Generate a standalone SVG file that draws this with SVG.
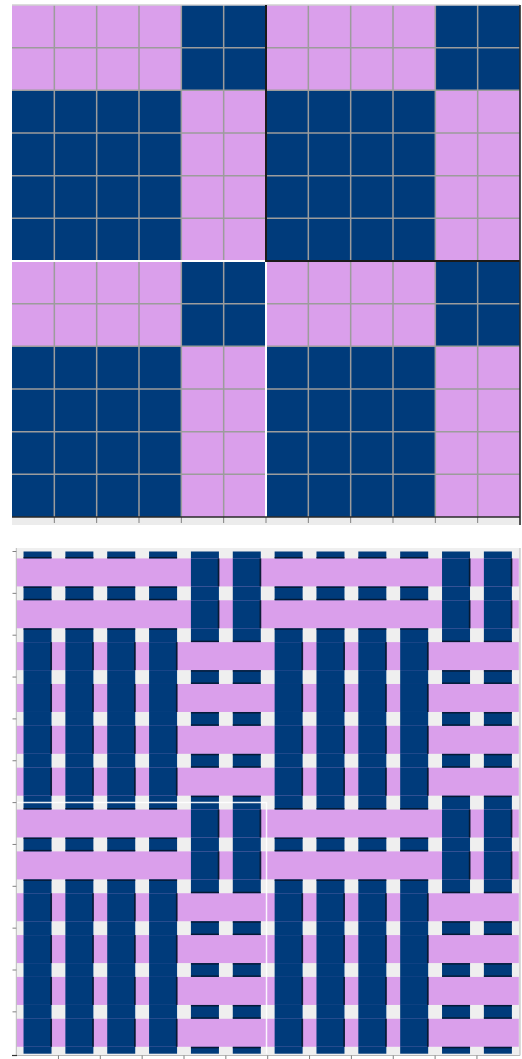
<svg xmlns="http://www.w3.org/2000/svg" xmlns:xlink="http://www.w3.org/1999/xlink" width="522" height="1059" viewBox="0 0 522 1059">
<style>
.p{fill:#DA9FEB}
.b{fill:#003B7B}
.sh{fill:#061428;opacity:0.85}
.grid{stroke:#9c9c9c;stroke-width:1.5;fill:none}
.tick{stroke:#808080;stroke-width:1;fill:none}
.ax{stroke:#b8b8b8;stroke-width:1;fill:none}
</style>
<defs>
<g id="wu"><rect x="-14" y="-14" width="28" height="28" class="b"/><rect x="12.8" y="-14" width="1.7" height="28" class="sh"/></g>
<g id="fu"><rect x="-14" y="-15.5" width="28" height="1.4" class="sh"/><rect x="-14" y="14.1" width="28" height="1.4" class="sh"/></g>
<g id="rowA">
<use href="#fu" x="37.53"/><use href="#fu" x="79.38"/><use href="#fu" x="121.23"/><use href="#fu" x="163.08"/>
<use href="#wu" x="204.93"/><use href="#wu" x="246.78"/>
<use href="#fu" x="288.63"/><use href="#fu" x="330.48"/><use href="#fu" x="372.33"/><use href="#fu" x="414.18"/>
<use href="#wu" x="456.03"/><use href="#wu" x="497.88"/>
</g>
<g id="rowB">
<use href="#wu" x="37.53"/><use href="#wu" x="79.38"/><use href="#wu" x="121.23"/><use href="#wu" x="163.08"/>
<use href="#fu" x="204.93"/><use href="#fu" x="246.78"/>
<use href="#wu" x="288.63"/><use href="#wu" x="330.48"/><use href="#wu" x="372.33"/><use href="#wu" x="414.18"/>
<use href="#fu" x="456.03"/><use href="#fu" x="497.88"/>
</g>
</defs>
<rect x="0" y="0" width="522" height="1059" fill="#ffffff"/>

<g id="draft">
<rect x="12" y="5" width="508" height="512" class="p"/>
<rect x="181.33" y="5" width="84.67" height="85.33" class="b"/>
<rect x="435.33" y="5" width="84.67" height="85.33" class="b"/>
<rect x="12" y="90.33" width="169.33" height="170.67" class="b"/>
<rect x="266" y="90.33" width="169.33" height="170.67" class="b"/>
<rect x="181.33" y="261" width="84.67" height="85.33" class="b"/>
<rect x="435.33" y="261" width="84.67" height="85.33" class="b"/>
<rect x="12" y="346.33" width="169.33" height="170.67" class="b"/>
<rect x="266" y="346.33" width="169.33" height="170.67" class="b"/>
<path class="grid" d="M54.33 5V517M96.67 5V517M139 5V517M181.33 5V517M223.67 5V517M266 5V517M308.33 5V517M350.67 5V517M393 5V517M435.33 5V517M477.67 5V517M12 47.67H520M12 90.33H520M12 133H520M12 175.67H520M12 218.33H520M12 261H520M12 303.67H520M12 346.33H520M12 389H520M12 431.67H520M12 474.33H520"/>
<path d="M12 5H520" stroke="#d0d0d0" stroke-width="1.5" fill="none"/>
<path d="M266 261H12M266 261V517" stroke="#ffffff" stroke-width="2" fill="none"/>
<path d="M266 5V261H520" stroke="#1a1a1a" stroke-width="2" fill="none"/>
<rect x="12" y="517" width="508" height="8" fill="#ececec"/>
<path class="tick" d="M54.33 517V523M96.67 517V523M139 517V523M181.33 517V523M223.67 517V523M266 517V523M308.33 517V523M350.67 517V523M393 517V523M435.33 517V523M477.67 517V523"/>
<path d="M12 517H520.5M520 5V525" stroke="#2a2a2a" stroke-width="1.6" fill="none"/>
</g>

<g id="weave">
<rect x="16.6" y="548" width="503.4" height="507" fill="#efefef"/>
<g id="warps">
<rect x="23.53" y="551.5" width="28" height="502.2" class="b"/>
<rect x="65.38" y="551.5" width="28" height="502.2" class="b"/>
<rect x="107.23" y="551.5" width="28" height="502.2" class="b"/>
<rect x="149.08" y="551.5" width="28" height="502.2" class="b"/>
<rect x="190.93" y="551.5" width="28" height="502.2" class="b"/>
<rect x="232.78" y="551.5" width="28" height="502.2" class="b"/>
<rect x="274.63" y="551.5" width="28" height="502.2" class="b"/>
<rect x="316.48" y="551.5" width="28" height="502.2" class="b"/>
<rect x="358.33" y="551.5" width="28" height="502.2" class="b"/>
<rect x="400.18" y="551.5" width="28" height="502.2" class="b"/>
<rect x="442.03" y="551.5" width="28" height="502.2" class="b"/>
<rect x="483.88" y="551.5" width="28" height="502.2" class="b"/>
</g>
<g id="wefts">
<rect x="16.6" y="558.43" width="502.2" height="28" class="p"/>
<rect x="16.6" y="600.28" width="502.2" height="28" class="p"/>
<rect x="16.6" y="642.13" width="502.2" height="28" class="p"/>
<rect x="16.6" y="683.98" width="502.2" height="28" class="p"/>
<rect x="16.6" y="725.83" width="502.2" height="28" class="p"/>
<rect x="16.6" y="767.68" width="502.2" height="28" class="p"/>
<rect x="16.6" y="809.53" width="502.2" height="28" class="p"/>
<rect x="16.6" y="851.38" width="502.2" height="28" class="p"/>
<rect x="16.6" y="893.23" width="502.2" height="28" class="p"/>
<rect x="16.6" y="935.08" width="502.2" height="28" class="p"/>
<rect x="16.6" y="976.93" width="502.2" height="28" class="p"/>
<rect x="16.6" y="1018.78" width="502.2" height="28" class="p"/>
</g>
<g id="interlacing">
<use href="#rowA" y="572.43"/>
<use href="#rowA" y="614.28"/>
<use href="#rowB" y="656.13"/>
<use href="#rowB" y="697.98"/>
<use href="#rowB" y="739.83"/>
<use href="#rowB" y="781.68"/>
<use href="#rowA" y="823.53"/>
<use href="#rowA" y="865.38"/>
<use href="#rowB" y="907.23"/>
<use href="#rowB" y="949.08"/>
<use href="#rowB" y="990.93"/>
<use href="#rowB" y="1032.78"/>
</g>
<path d="M17 802.6H266.5V1053.7" stroke="#ffffff" stroke-opacity="0.9" stroke-width="1.5" fill="none"/>
<path class="ax" d="M16.3 548V1055.5H520M520 548V1055.5"/>
<path class="tick" d="M12.5 551.5H16.3M12.5 593.35H16.3M12.5 635.2H16.3M12.5 677.05H16.3M12.5 718.9H16.3M12.5 760.75H16.3M12.5 802.6H16.3M12.5 844.45H16.3M12.5 886.3H16.3M12.5 928.15H16.3M12.5 970H16.3M12.5 1011.85H16.3M58.45 1055.5V1059M100.3 1055.5V1059M142.15 1055.5V1059M184 1055.5V1059M225.85 1055.5V1059M267.7 1055.5V1059M309.55 1055.5V1059M351.4 1055.5V1059M393.25 1055.5V1059M435.1 1055.5V1059M476.95 1055.5V1059"/>
<path d="M12 1055.5H17" stroke="#333" stroke-width="1.2"/>
</g>
</svg>
